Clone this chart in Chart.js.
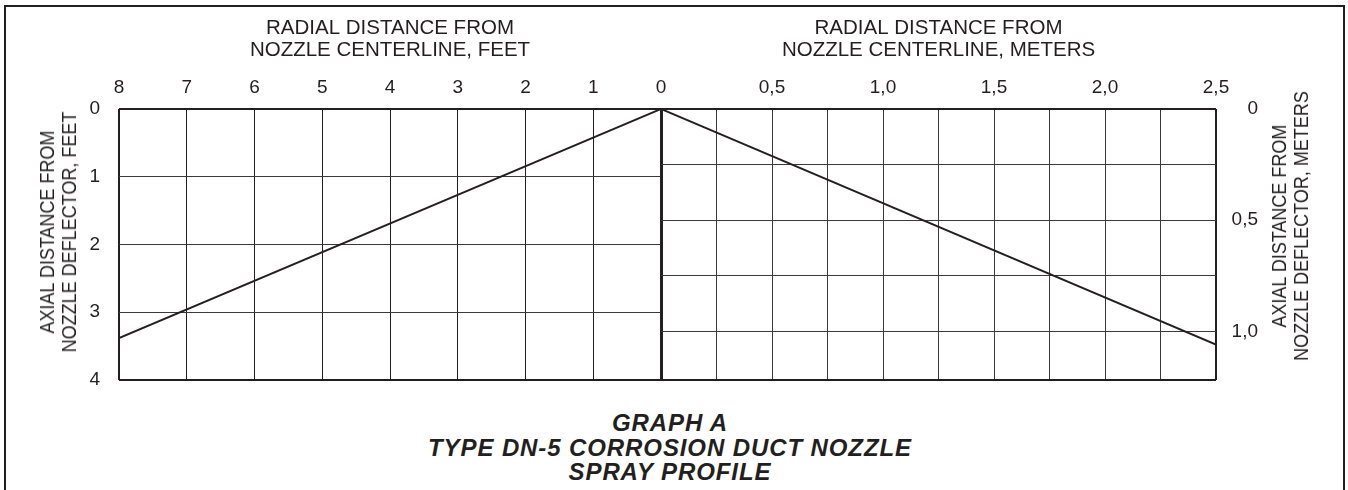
<!DOCTYPE html>
<html>
<head>
<meta charset="utf-8">
<title>Type DN-5 Corrosion Duct Nozzle Spray Profile</title>
<script src="https://cdn.jsdelivr.net/npm/chart.js@4.4.0/dist/chart.umd.min.js"></script>
<style>
  html, body { margin: 0; padding: 0; background: #fff; overflow: hidden; }
  body { width: 1348px; height: 490px; position: relative; font-family: "Liberation Sans", Arial, Helvetica, sans-serif; color: #231f20; }
  #frame { position: absolute; left: 4px; top: 5px; width: 1337px; height: 600px; border: 2px solid #231f20; border-bottom: none; }
  canvas { position: absolute; top: 0; }
  #leftChart { left: 0; }
  #rightChart { left: 655px; }
  .vtitle { position: absolute; font-size: 18px; line-height: 20px; text-align: center; white-space: nowrap; transform: translate(-50%, -50%) scaleX(1.1) rotate(-90deg); }
  #caption { position: absolute; left: 0; width: 1340px; top: 411px; text-align: center; font-weight: bold; font-style: italic; font-size: 24px; line-height: 24.5px; letter-spacing: 0.9px; }
</style>
</head>
<body>
<div id="frame"></div>
<canvas id="leftChart" width="668" height="400"></canvas>
<canvas id="rightChart" width="693" height="400"></canvas>
<div class="vtitle" style="left:58px; top:232px;">AXIAL DISTANCE FROM<br>NOZZLE DEFLECTOR, FEET</div>
<div class="vtitle" style="left:1290px; top:226px;">AXIAL DISTANCE FROM<br>NOZZLE DEFLECTOR, METERS</div>
<div id="caption">GRAPH A<br>TYPE DN-5 CORROSION DUCT NOZZLE<br>SPRAY PROFILE</div>
<script>
// spray profile, feet side (radial ft, axial ft)
const leftRadialFt = [0, 8];
const leftAxialFt = [0, 3.38];
// spray profile, meter side (radial m, axial m)
const rightRadialM = [0, 2.5];
const rightAxialM = [0, 1.06];

const ftRange = { radial: 8, axial: 4 };
const mRange = { radial: 2.5, axial: 4 * 0.3048 };
const ftStep = 1;
const mStep = 0.25;

const INK = '#231f20';
const GRID = '#3a3a3a';
Chart.defaults.font.family = '"Liberation Sans", Arial, Helvetica, sans-serif';
Chart.defaults.color = INK;

const toPoints = (xs, ys) => xs.map((x, i) => ({ x: x, y: ys[i] }));
const isHalf = v => Math.abs(v * 2 - Math.round(v * 2)) < 1e-6;
const commaLabel = v => v === 0 ? '0' : v.toFixed(1).replace('.', ',');

// fix axis box size, drop the auto label padding so the plot area lands where we want
function fixBox(w, h) {
    return s => {
        if (w !== null) s.width = w;
        if (h !== null) s.height = h;
        s.paddingLeft = s.paddingRight = s.paddingTop = s.paddingBottom = 0;
    };
}

function profileDataset(points) {
    return {
        data: points,
        showLine: true,
        borderColor: INK,
        borderWidth: 2,
        pointRadius: 0,
        fill: false
    };
}

const tickFont = { size: 19 };
const titleFont = { size: 20.5, lineHeight: 1.1 };

// left half: feet
new Chart(document.getElementById('leftChart'), {
    type: 'scatter',
    data: { datasets: [profileDataset(toPoints(leftRadialFt, leftAxialFt))] },
    options: {
        responsive: false,
        animation: false,
        devicePixelRatio: 1,
        layout: { padding: { left: 0, top: 0, right: 7, bottom: 20 } },
        plugins: { legend: { display: false }, tooltip: { enabled: false } },
        scales: {
            x: {
                type: 'linear',
                position: 'top',
                reverse: true,
                min: 0,
                max: ftRange.radial,
                afterFit: fixBox(null, 109),
                ticks: { stepSize: ftStep, font: tickFont, padding: 10, maxRotation: 0 },
                grid: {
                    color: INK,
                    drawTicks: false,
                    lineWidth: c => c.tick.value === 0 ? 3 : (c.tick.value === ftRange.radial ? 2 : 1)
                },
                border: { display: false },
                title: {
                    display: true,
                    text: ['RADIAL DISTANCE FROM', 'NOZZLE CENTERLINE, FEET'],
                    font: titleFont,
                    padding: { top: 17, bottom: 0 }
                }
            },
            y: {
                type: 'linear',
                position: 'left',
                reverse: true,
                min: 0,
                max: ftRange.axial,
                afterFit: fixBox(119, null),
                ticks: { stepSize: ftStep, font: tickFont, padding: 19 },
                grid: {
                    color: c => (c.tick.value === 0 || c.tick.value === ftRange.axial) ? INK : GRID,
                    drawTicks: false,
                    lineWidth: c => (c.tick.value === 0 || c.tick.value === ftRange.axial) ? 2 : 1
                },
                border: { display: false }
            }
        }
    }
});

// right half: meters
new Chart(document.getElementById('rightChart'), {
    type: 'scatter',
    data: { datasets: [profileDataset(toPoints(rightRadialM, rightAxialM))] },
    options: {
        responsive: false,
        animation: false,
        devicePixelRatio: 1,
        layout: { padding: { left: 6, top: 0, right: 90, bottom: 20 } },
        plugins: { legend: { display: false }, tooltip: { enabled: false } },
        scales: {
            x: {
                type: 'linear',
                position: 'top',
                min: 0,
                max: mRange.radial,
                afterFit: fixBox(null, 109),
                ticks: {
                    stepSize: mStep,
                    font: tickFont,
                    padding: 10,
                    maxRotation: 0,
                    autoSkip: false,
                    callback: v => (v !== 0 && isHalf(v)) ? commaLabel(v) : ''
                },
                grid: {
                    color: c => c.tick.value === 0 || c.tick.value === mRange.radial ? INK : GRID,
                    drawTicks: false,
                    lineWidth: c => c.tick.value === 0 ? 3 : (c.tick.value === mRange.radial ? 2 : 1)
                },
                border: { display: false },
                title: {
                    display: true,
                    text: ['RADIAL DISTANCE FROM', 'NOZZLE CENTERLINE, METERS'],
                    font: titleFont,
                    padding: { top: 17, bottom: 0 }
                }
            },
            y: {
                type: 'linear',
                position: 'right',
                reverse: true,
                min: 0,
                max: mRange.axial,
                afterFit: fixBox(42, null),
                ticks: {
                    stepSize: mStep,
                    font: tickFont,
                    padding: 12,
                    crossAlign: 'far',
                    autoSkip: false,
                    callback: v => isHalf(v) ? commaLabel(v) : ''
                },
                grid: {
                    color: c => (c.tick.value === 0 || c.tick.value === mRange.axial) ? INK : GRID,
                    drawTicks: false,
                    lineWidth: c => (c.tick.value === 0 || c.tick.value === mRange.axial) ? 2 : 1
                },
                border: { display: false }
            }
        }
    }
});
</script>
</body>
</html>
